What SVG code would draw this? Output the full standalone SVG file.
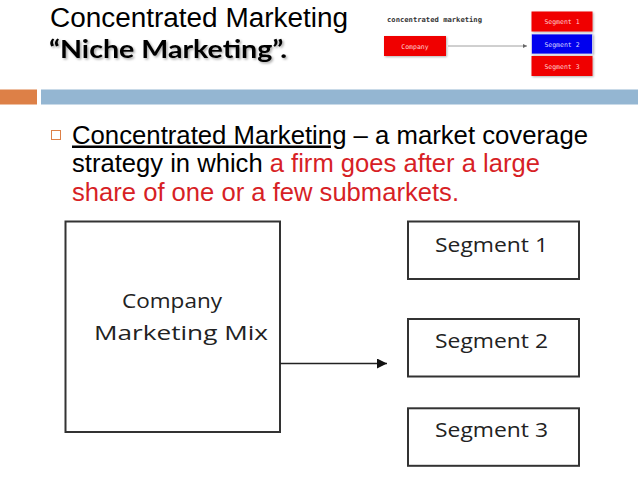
<svg xmlns="http://www.w3.org/2000/svg" width="638" height="479" viewBox="0 0 638 479">
<style>
.title{font-family:"Liberation Sans",Arial,sans-serif;font-size:27px;fill:#000}
.niche{font-family:Lato,"Open Sans",sans-serif;font-weight:bold;font-size:24.5px;fill:#000}
.body{font-family:"Liberation Sans",Arial,sans-serif;font-size:25px;fill:#000}
.red{fill:#d71f26}
.box{fill:#fff;stroke:#333;stroke-width:2}
.dtext{font-family:"Open Sans","DejaVu Sans",sans-serif;font-size:20px;fill:#222}
.conn{stroke:#222;stroke-width:1.4;fill:none}
.tmono{font-family:"DejaVu Sans Mono","Liberation Mono",monospace;font-size:7px}
.tred{fill:#f00000}
.tblue{fill:#0000ee}
.tlabel{font-family:"DejaVu Sans Mono","Liberation Mono",monospace;font-size:6.5px;fill:#ffd0d0;text-anchor:middle}
</style>
<defs>
<marker id="arr" markerWidth="10" markerHeight="10" refX="10" refY="5" orient="auto" markerUnits="userSpaceOnUse" viewBox="0 0 10 10">
<path d="M0,0 L10,5 L0,10 z" fill="#111"/>
</marker>
<marker id="tarr" markerWidth="4" markerHeight="4" refX="4" refY="2" orient="auto" markerUnits="userSpaceOnUse" viewBox="0 0 4 4">
<path d="M0,0 L4,2 L0,4 z" fill="#666"/>
</marker>
<filter id="sh" x="-5%" y="-20%" width="115%" height="150%">
<feDropShadow dx="1.5" dy="1.5" stdDeviation="1" flood-color="#000" flood-opacity="0.35"/>
</filter>
<filter id="bsh" x="-10%" y="-20%" width="130%" height="160%">
<feDropShadow dx="1" dy="1" stdDeviation="0.8" flood-color="#000" flood-opacity="0.3"/>
</filter>
</defs>
<rect width="638" height="479" fill="#fff"/>

<g id="title">
<text class="title" x="50" y="27" textLength="298" lengthAdjust="spacingAndGlyphs">Concentrated Marketing</text>
<text class="niche" x="49" y="58" textLength="238" lengthAdjust="spacingAndGlyphs" filter="url(#sh)">“Niche Marketing”.</text>
</g>

<g id="header-bar">
<rect x="0" y="89.5" width="37" height="15" fill="#dd8047"/>
<rect x="41" y="89.5" width="597" height="15" fill="#94b6d2"/>
</g>

<g id="bullet">
<rect x="51.5" y="130.5" width="9" height="9" fill="none" stroke="#dd8047" stroke-width="1"/>
<text class="body" x="72" y="143.5" textLength="516" lengthAdjust="spacingAndGlyphs"><tspan text-decoration="underline">Concentrated Marketing</tspan> – a market coverage</text>
<text class="body" x="72" y="172" textLength="468" lengthAdjust="spacingAndGlyphs">strategy in which <tspan class="red">a firm goes after a large</tspan></text>
<text class="body red" x="72" y="200.5" textLength="387" lengthAdjust="spacingAndGlyphs">share of one or a few submarkets.</text>
</g>

<g id="thumbnail">
<text class="tmono" x="387" y="22" fill="#333" textLength="95" lengthAdjust="spacingAndGlyphs" font-weight="bold">concentrated marketing</text>
<g id="thumb-company">
<rect x="384" y="36" width="62" height="20" class="tred" filter="url(#bsh)"/>
<text class="tlabel" x="415" y="48.5">Company</text>
</g>
<g id="thumb-connectors">
<line x1="448" y1="46" x2="527" y2="46" stroke="#888" stroke-width="0.8" marker-end="url(#tarr)"/>
</g>
<g id="thumb-seg1">
<rect x="531.5" y="11.5" width="61" height="20" class="tred" filter="url(#bsh)"/>
<text class="tlabel" x="562" y="23.5">Segment 1</text>
</g>
<g id="thumb-seg2">
<rect x="531.5" y="34" width="61" height="20" class="tblue" stroke="#dde" stroke-width="0.8" filter="url(#bsh)"/>
<text class="tlabel" x="562" y="46.5" style="fill:#d8d8ff">Segment 2</text>
</g>
<g id="thumb-seg3">
<rect x="531.5" y="56" width="61" height="20" class="tred" filter="url(#bsh)"/>
<text class="tlabel" x="562" y="68.5">Segment 3</text>
</g>
</g>

<g id="company">
<rect class="box" x="65.5" y="221.5" width="214.5" height="210.5"/>
<text class="dtext" x="122" y="307.5" textLength="100" lengthAdjust="spacingAndGlyphs">Company</text>
<text class="dtext" x="94" y="339.5" textLength="174" lengthAdjust="spacingAndGlyphs">Marketing Mix</text>
</g>

<g id="seg1">
<rect class="box" x="408" y="221.5" width="171" height="57.5"/>
<text class="dtext" x="435" y="251.7" textLength="113" lengthAdjust="spacingAndGlyphs">Segment 1</text>
</g>
<g id="seg2">
<rect class="box" x="408" y="319" width="171" height="57.5"/>
<text class="dtext" x="435" y="347.5" textLength="113" lengthAdjust="spacingAndGlyphs">Segment 2</text>
</g>
<g id="seg3">
<rect class="box" x="408" y="408.3" width="171" height="57.5"/>
<text class="dtext" x="435" y="436.7" textLength="113" lengthAdjust="spacingAndGlyphs">Segment 3</text>
</g>

<g id="connectors">
<line class="conn" x1="280" y1="363.5" x2="387" y2="363.5" marker-end="url(#arr)"/>
</g>
</svg>
